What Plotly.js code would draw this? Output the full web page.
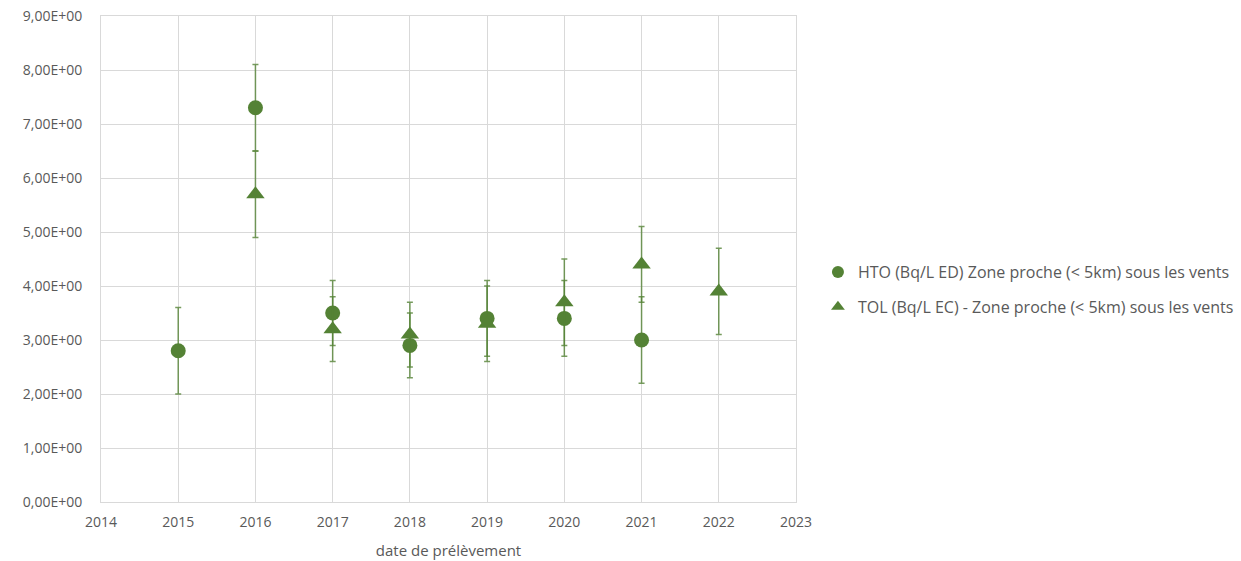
<!DOCTYPE html>
<html>
<head>
<meta charset="utf-8">
<script src="https://cdn.plot.ly/plotly-3.0.1.min.js"></script>
<style>
  html, body { margin: 0; padding: 0; background: #ffffff; }
  #chart { width: 1241px; height: 561px; }
</style>
</head>
<body>
<div id="chart"></div>
<script>
// Sampling years
const htoYears = [2015, 2016, 2017, 2018, 2019, 2020, 2021];
const tolYears = [2016, 2017, 2018, 2019, 2020, 2021, 2022];

// HTO (Bq/L ED) values and uncertainties
const htoValues = [2.8, 7.3, 3.5, 2.9, 3.4, 3.4, 3.0];
const htoErrors = [0.8, 0.8, 0.6, 0.6, 0.7, 0.7, 0.8];

// TOL (Bq/L EC) values and uncertainties
const tolValues = [5.7, 3.2, 3.1, 3.3, 3.7, 4.4, 3.9];
const tolErrors = [0.8, 0.6, 0.6, 0.7, 0.8, 0.7, 0.8];

// Series names
const htoName = 'HTO (Bq/L ED) Zone proche (< 5km) sous les vents';
const tolName = 'TOL (Bq/L EC) - Zone proche (< 5km) sous les vents';

// Axis ticks
const yTickValues = [0, 1, 2, 3, 4, 5, 6, 7, 8, 9];
const yTickLabels = ['0,00E+00', '1,00E+00', '2,00E+00', '3,00E+00', '4,00E+00',
                     '5,00E+00', '6,00E+00', '7,00E+00', '8,00E+00', '9,00E+00'];
const xTickValues = [2014, 2015, 2016, 2017, 2018, 2019, 2020, 2021, 2022, 2023];
const xTickLabels = ['2014', '2015', '2016', '2017', '2018', '2019', '2020', '2021', '2022', '2023'];
const xTitle = 'date de prélèvement';

const green = '#548235';
const barColor = 'rgba(84,130,53,0.8)';
const textGrey = '#595959';
const gridGrey = '#d9d9d9';
const fontFamily = '"Open Sans", "Liberation Sans", sans-serif';

const traces = [
  {
    type: 'scatter',
    mode: 'markers',
    name: htoName,
    legendgroup: 'hto',
    x: htoYears,
    y: htoValues,
    marker: { symbol: 'circle', size: 15, color: green },
    error_y: { type: 'data', array: htoErrors, visible: true, color: barColor, thickness: 1.5, width: 3 }
  },
  {
    type: 'scatter',
    mode: 'markers',
    name: tolName,
    legendgroup: 'tol',
    x: tolYears,
    y: tolValues,
    marker: { symbol: 'triangle-up', size: 16, color: green },
    error_y: { type: 'data', array: tolErrors, visible: true, color: barColor, thickness: 1.5, width: 3 }
  }
];

const layout = {
  width: 1241,
  height: 561,
  margin: { l: 101, r: 445, t: 16, b: 59, pad: 0, autoexpand: false },
  paper_bgcolor: '#ffffff',
  plot_bgcolor: '#ffffff',
  font: { family: fontFamily, color: textGrey, size: 14 },
  showlegend: true,
  legend: {
    xref: 'container',
    x: 0.6591,
    xanchor: 'left',
    y: 0.437,
    yanchor: 'middle',
    traceorder: 'grouped',
    tracegroupgap: 11,
    itemsizing: 'constant',
    font: { family: fontFamily, color: textGrey, size: 16 },
    bgcolor: 'rgba(0,0,0,0)'
  },
  xaxis: {
    range: [2014, 2023],
    tickmode: 'array',
    tickvals: xTickValues,
    ticktext: xTickLabels,
    showgrid: true,
    gridcolor: gridGrey,
    gridwidth: 1,
    showline: true,
    linecolor: gridGrey,
    linewidth: 1,
    mirror: true,
    zeroline: false,
    ticks: '',
    ticklabelstandoff: 7,
    tickfont: { family: fontFamily, color: textGrey, size: 14 },
    title: { text: xTitle, font: { family: fontFamily, color: textGrey, size: 15 }, standoff: 15 }
  },
  yaxis: {
    range: [0, 9],
    tickmode: 'array',
    tickvals: yTickValues,
    ticktext: yTickLabels,
    showgrid: true,
    gridcolor: gridGrey,
    gridwidth: 1,
    showline: true,
    linecolor: gridGrey,
    linewidth: 1,
    mirror: true,
    zeroline: false,
    ticks: '',
    ticklabelstandoff: 15,
    tickfont: { family: fontFamily, color: textGrey, size: 14 }
  }
};

Plotly.newPlot('chart', traces, layout, { displayModeBar: false, staticPlot: true });
</script>
</body>
</html>
